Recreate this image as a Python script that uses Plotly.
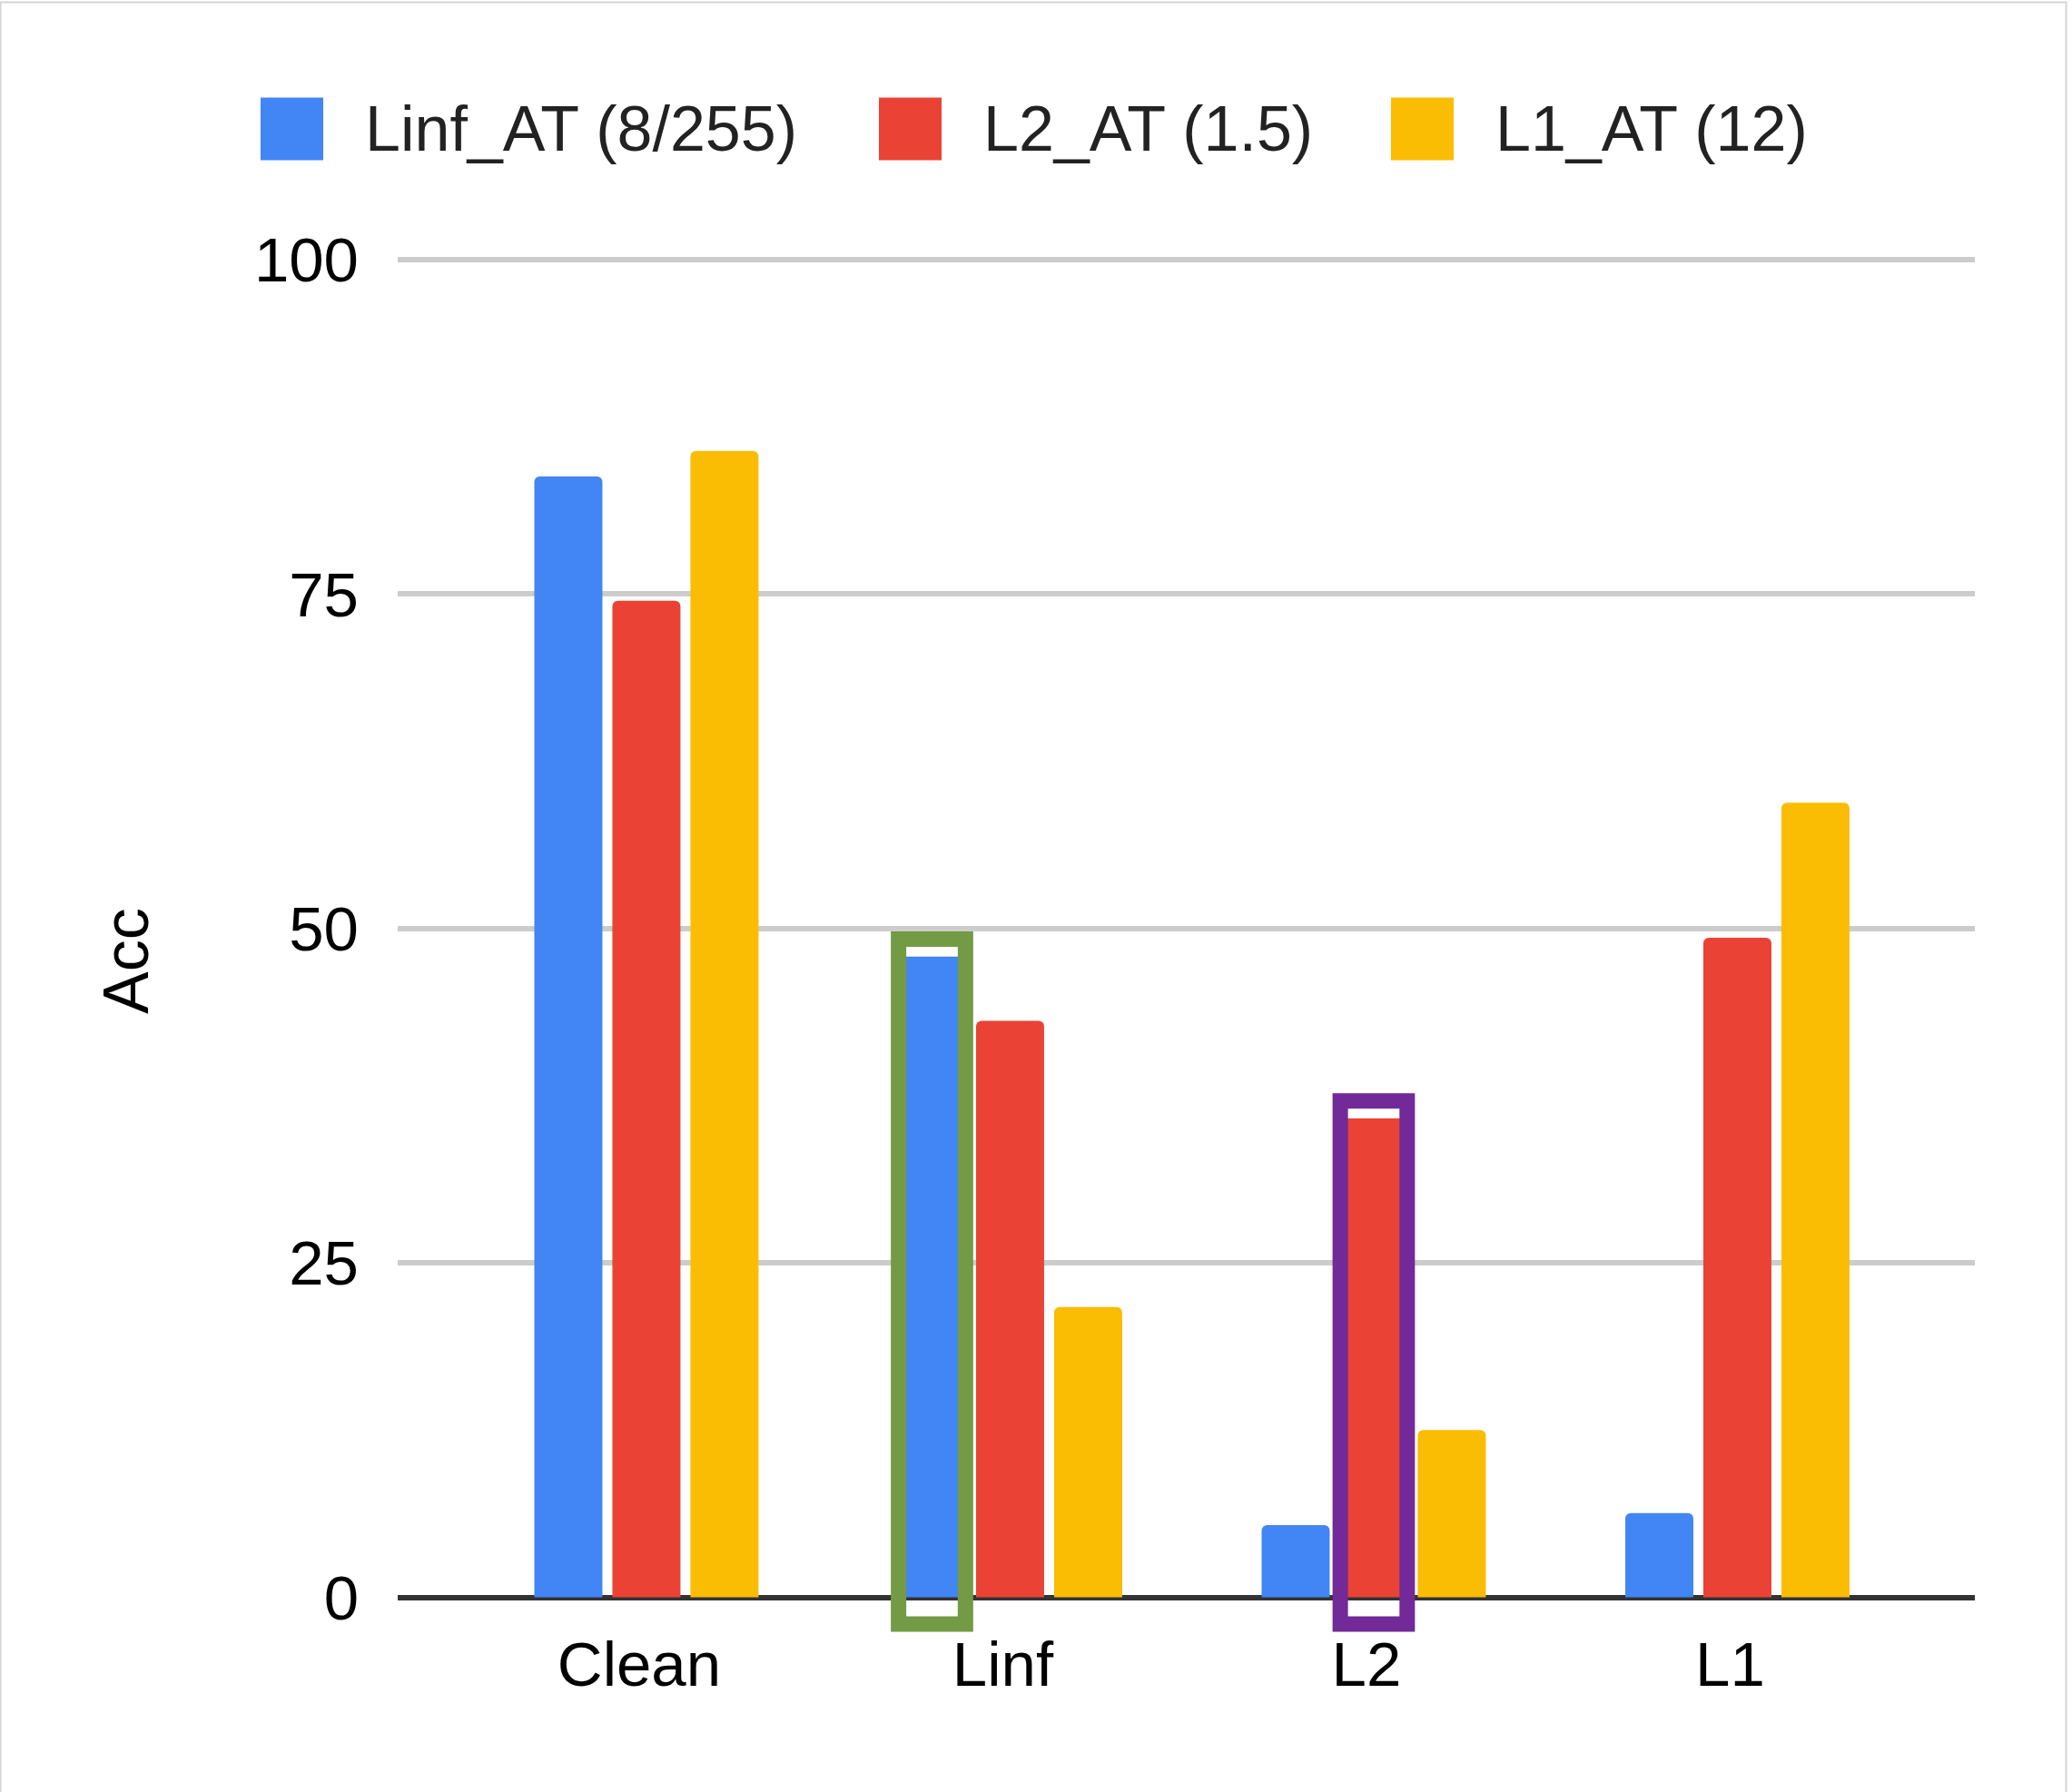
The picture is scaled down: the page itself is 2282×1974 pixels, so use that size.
import plotly.graph_objects as go

# chart data
categories = ["Clean", "Linf", "L2", "L1"]
series_names = ["Linf_AT (8/255)", "L2_AT (1.5)", "L1_AT (12)"]
linf_at = [83.8, 47.9, 5.4, 6.3]
l2_at = [74.5, 43.1, 35.8, 49.3]
l1_at = [85.7, 21.7, 12.5, 59.4]
y_ticks = [0, 25, 50, 75, 100]
# bars marked with a box: (category, series index)
highlights = [("Linf", 0), ("L2", 1)]

series = [linf_at, l2_at, l1_at]
colors = ["#4285F4", "#EA4335", "#FBBC04"]
box_colors = ["#739A45", "#712A97"]

W, H = 2282, 1974
FONT = "Liberation Sans, Arial, sans-serif"
bargap = 0.356
bargroupgap = 0.128

# y axis geometry (pixels)
y_zero_px = 1759.5
px_per_unit = 14.735
y_range = [-5, 101]
y_dom = [1 - (y_zero_px - y_range[0] * px_per_unit) / H,
         1 - (y_zero_px - y_range[1] * px_per_unit) / H]

fig = go.Figure()
for name, vals, col in zip(series_names, series, colors):
    fig.add_trace(go.Bar(x=categories, y=vals, name=name,
                         marker=dict(color=col, line=dict(width=0))))

shapes = []
# highlight boxes around bars
slot = (1 - bargap) / len(series)
for (cat, si), bc in zip(highlights, box_colors):
    ci = categories.index(cat)
    xc = ci + (si - (len(series) - 1) / 2) * slot
    shapes.append(dict(type="rect", xref="x", yref="y",
                       x0=xc - 0.092, x1=xc + 0.092,
                       y0=-2.0, y1=series[si][ci] + 1.3,
                       line=dict(color=bc, width=17), layer="above"))

# custom legend (big squares like the original)
legend_x = [287, 968, 1532]
sq = 69
legend_cy = 142
annotations = []
for lx, name, col in zip(legend_x, series_names, colors):
    shapes.append(dict(type="rect", xref="paper", yref="paper",
                       x0=lx / W, x1=(lx + sq) / W,
                       y0=1 - (legend_cy + sq / 2) / H, y1=1 - (legend_cy - sq / 2) / H,
                       fillcolor=col, line=dict(width=0)))
    annotations.append(dict(text=name, xref="paper", yref="paper",
                            x=(lx + sq + 44) / W, y=1 - legend_cy / H,
                            xanchor="left", yanchor="middle", showarrow=False,
                            font=dict(family=FONT, size=70, color="#222222")))

# y axis title
annotations.append(dict(text="Acc", xref="paper", yref="paper",
                        x=139 / W, y=1 - 1059 / H, textangle=-90,
                        xanchor="center", yanchor="middle", showarrow=False,
                        font=dict(family=FONT, size=70, color="#000000")))

# thin frame round the picture
shapes.append(dict(type="rect", xref="paper", yref="paper",
                   x0=0.5 / W, x1=2275.5 / W, y0=-0.01, y1=1 - 2.5 / H,
                   line=dict(color="#d4d4d4", width=2)))

fig.update_layout(
    width=W, height=H,
    margin=dict(l=0, r=0, t=0, b=0),
    paper_bgcolor="white", plot_bgcolor="white",
    barmode="group", bargap=bargap, bargroupgap=bargroupgap,
    barcornerradius=6,
    showlegend=False,
    font=dict(family=FONT, size=70, color="#000000"),
    shapes=shapes, annotations=annotations,
)
fig.update_xaxes(domain=[438 / W, 2175 / W], range=[-0.684, 3.653],
                 showgrid=False, zeroline=False, showline=False, ticks="",
                 ticklabelstandoff=-46, ticklabelshift=-8, automargin=False,
                 tickfont=dict(family=FONT, size=69, color="#000000"))
fig.update_yaxes(domain=y_dom, range=y_range, tickvals=y_ticks,
                 showgrid=True, gridcolor="#cccccc", gridwidth=6,
                 zeroline=True, zerolinecolor="#333333", zerolinewidth=6,
                 showline=False, ticks="", ticklabelstandoff=42, automargin=False,
                 tickfont=dict(family=FONT, size=69, color="#000000"))

fig.write_html("out.html", config={"displayModeBar": False},
               post_script="document.body.style.margin='0px';")
